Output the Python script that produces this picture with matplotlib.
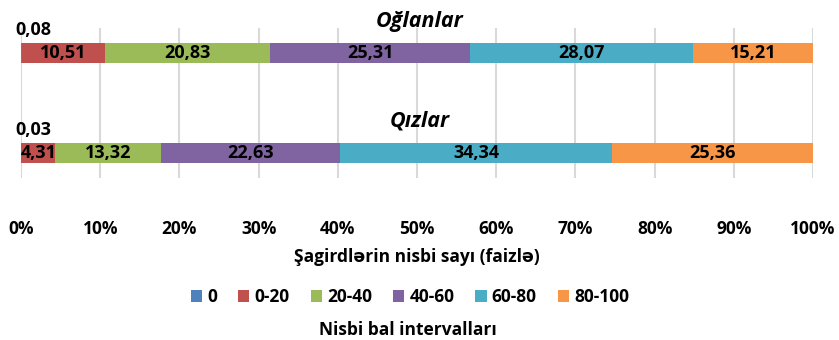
import numpy as np
import matplotlib as mpl
mpl.use('Agg')
import matplotlib.pyplot as plt

plt.rcParams['font.family'] = ['Open Sans', 'DejaVu Sans']
plt.rcParams['font.weight'] = 'bold'

groups = ["Oğlanlar", "Qızlar"]
intervals = ["0", "0-20", "20-40", "40-60", "60-80", "80-100"]
oglanlar = [0.08, 10.51, 20.83, 25.31, 28.07, 15.21]
qizlar = [0.03, 4.31, 13.32, 22.63, 34.34, 25.36]
colors = ["#4F81BD", "#C0504D", "#9BBB59", "#8064A2", "#4BACC6", "#F79646"]

data = np.array([oglanlar, qizlar])
ypos = np.arange(len(groups))

fig = plt.figure(figsize=(8.39, 3.40), dpi=100)
ax = fig.add_axes([21 / 839, 162 / 340, 792 / 839, 150 / 340])

left = np.zeros(len(groups))
for j, name in enumerate(intervals):
    vals = data[:, j]
    ax.barh(ypos, vals, left=left, height=0.2, color=colors[j],
            label=name, zorder=3)
    for i, v in enumerate(vals):
        txt = ("%.2f" % v).replace(".", ",")
        mid = left[i] + v / 2
        if v < 1:
            # tiny slice: put the number above the bar start
            ax.annotate(txt, (mid, ypos[i]), xytext=(12, 23),
                        textcoords='offset pixels', ha='center',
                        va='center', fontsize=13, fontweight='bold',
                        annotation_clip=False)
        else:
            ax.text(mid, ypos[i], txt, ha='center', va='center',
                    fontsize=13, fontweight='bold', zorder=4)
    left += vals

for i, g in enumerate(groups):
    ax.annotate(g, (50.3, ypos[i]), xytext=(0, 32),
                textcoords='offset pixels', ha='center', va='center',
                fontsize=15.5, fontweight='bold', style='italic',
                annotation_clip=False)

ax.set_xlim(0, 100)
ax.set_ylim(1.25, -0.25)
ax.set_yticks([])
ax.set_xticks(np.arange(0, 101, 10))
ax.set_xticklabels(["%d%%" % t for t in range(0, 101, 10)],
                   fontsize=12.5, fontweight='bold')
ax.tick_params(axis='x', length=0, pad=30)
ax.grid(axis='x', color='#d9d9d9', linewidth=1.5, zorder=0)
for s in ax.spines.values():
    s.set_visible(False)

fig.text(417 / 839, 1 - 257 / 340, "Şagirdlərin nisbi sayı (faizlə)",
         ha='center', va='center', fontsize=12.5, fontweight='bold')
fig.text(408 / 839, 1 - 330 / 340, "Nisbi bal intervalları",
         ha='center', va='center', fontsize=12.5, fontweight='bold')

fig.legend(loc='center', bbox_to_anchor=(410 / 839, 1 - 297 / 340),
           ncol=6, frameon=False, handlelength=0.65,
           handleheight=0.65, handletextpad=0.3, columnspacing=1.2,
           prop={'weight': 'bold', 'size': 12.5})

fig.savefig("out.png", dpi=100)
